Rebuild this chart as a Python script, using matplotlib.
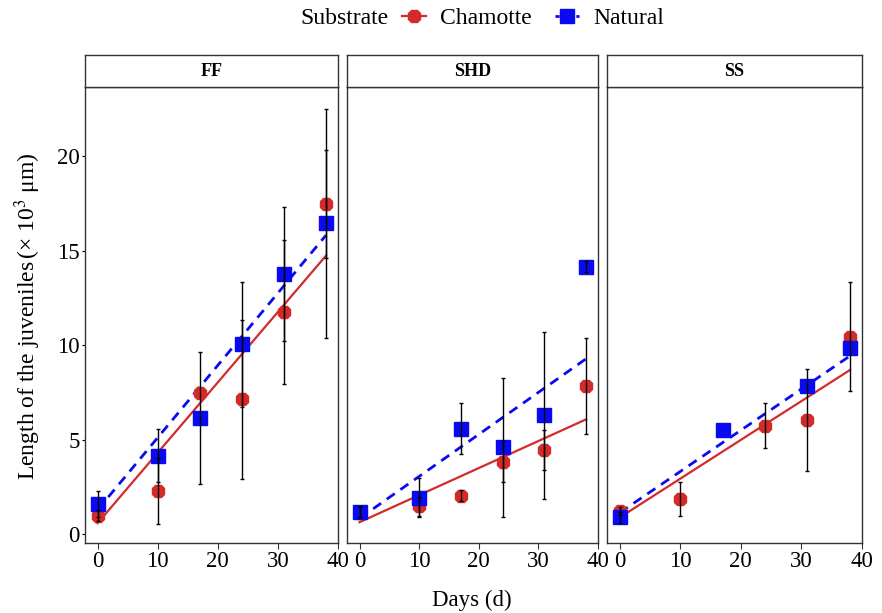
import numpy as np
import matplotlib
matplotlib.use("Agg")
import matplotlib.pyplot as plt
from matplotlib.lines import Line2D
from matplotlib.offsetbox import HPacker

plt.rcParams['font.family'] = ['Liberation Serif', 'DejaVu Serif']
plt.rcParams['mathtext.fontset'] = 'stix'

# data
days = np.array([0, 10, 17, 24, 31, 38])
panels = ['FF', 'SHD', 'SS']

cham_mean = {
    'FF':  [1.0, 2.3, 7.5, 7.15, 11.75, 17.45],
    'SHD': [1.15, 1.5, 2.05, 3.85, 4.45, 7.85],
    'SS':  [1.25, 1.9, np.nan, 5.75, 6.05, 10.45],
}
cham_err = {
    'FF':  [0.3, 1.75, 0.0, 4.2, 3.8, 2.85],
    'SHD': [0.3, 0.5, 0.3, 1.1, 1.05, 2.55],
    'SS':  [0.2, 0.9, np.nan, 1.2, 2.68, 2.87],
}
nat_mean = {
    'FF':  [1.6, 4.15, 6.15, 10.05, 13.75, 16.45],
    'SHD': [1.2, 1.95, 5.6, 4.6, 6.3, 14.15],
    'SS':  [0.9, np.nan, 5.5, np.nan, 7.85, 9.85],
}
nat_err = {
    'FF':  [0.7, 1.4, 3.5, 3.3, 3.55, 6.05],
    'SHD': [0.3, 1.05, 1.35, 3.65, 4.4, 0.3],
    'SS':  [0.3, np.nan, 0.0, np.nan, 0.0, 0.0],
}
# fitted lines (intercept, slope)
cham_fit = {'FF': (0.6, 0.372), 'SHD': (0.65, 0.143), 'SS': (0.9, 0.205)}
nat_fit = {'FF': (1.3, 0.382), 'SHD': (0.85, 0.222), 'SS': (1.15, 0.218)}

red = '#d42a2a'
blue = '#0a0af0'

fig = plt.figure(figsize=(8.82, 6.13), dpi=100)
lefts = [85, 347, 607]
widths = [253, 251, 255]
W, H = 882, 613
bottom = 1 - 543 / H
top = 1 - 87 / H
strip_h = 32 / H

xfit = np.array([0, 38])
for i, p in enumerate(panels):
    ax = fig.add_axes([lefts[i] / W, bottom, widths[i] / W, top - bottom])
    # regression lines
    a, b = cham_fit[p]
    ax.plot(xfit, a + b * xfit, color=red, lw=1.6, zorder=2)
    a, b = nat_fit[p]
    ax.plot(xfit, a + b * xfit, color=blue, lw=2.0, ls=(0, (3.5, 2.5)), zorder=2)
    # points
    ax.plot(days, cham_mean[p], ls='none', marker='8', ms=10, color=red, zorder=3)
    ax.plot(days, nat_mean[p], ls='none', marker='s', ms=10, color=blue, zorder=4)
    # error bars
    for m, e in ((cham_mean[p], cham_err[p]), (nat_mean[p], nat_err[p])):
        m = np.array(m); e = np.array(e)
        ok = ~np.isnan(m) & (e > 0)
        ax.errorbar(days[ok], m[ok], yerr=e[ok], fmt='none', ecolor='black',
                    elinewidth=1.0, capsize=1.5, capthick=1.0, zorder=5)
    ax.set_xlim(-2.1, 40)
    ax.set_ylim(-0.45, 23.65)
    ax.set_xticks([0, 10, 20, 30, 40])
    ax.tick_params(axis='x', labelsize=16.5, length=4, width=0.8, color='#333333', pad=2)
    if i == 0:
        ax.set_yticks([0, 5, 10, 15, 20])
        ax.set_yticklabels(['0', '5', '10', '15', '20'])
        ax.tick_params(axis='y', labelsize=16.5, length=2, width=0.8, pad=2)
    else:
        ax.set_yticks([])
    for s in ax.spines.values():
        s.set_color('#333333')
        s.set_linewidth(1.0)
    # strip
    sax = fig.add_axes([lefts[i] / W, top, widths[i] / W, strip_h])
    sax.set_xticks([]); sax.set_yticks([])
    sax.set_facecolor('white')
    for s in sax.spines.values():
        s.set_color('#333333')
        s.set_linewidth(1.0)
    sax.text(0.5, 0.5, p, ha='center', va='center', fontsize=13, fontweight='bold',
             transform=sax.transAxes)

fig.text(472 / W, 1 - 600 / H, 'Days (d)', ha='center', va='center', fontsize=16.5)
fig.text(28 / W, 1 - 316 / H, r'Length of the juveniles$\,$(× 10$^{3}$ μm)',
         ha='center', va='center', rotation=90, fontsize=17)

handles = [
    Line2D([], [], color=red, lw=1.6, marker='8', ms=10),
    Line2D([], [], color=blue, lw=2.0, ls=(0, (1.5, 1)), marker='s', ms=10),
]
leg = fig.legend(handles, ['Chamotte', 'Natural'], title='Substrate',
                 loc='center', bbox_to_anchor=(482 / W, 1 - 18 / H), ncol=2,
                 frameon=False, fontsize=17, title_fontsize=17, handlelength=1.0,
                 handletextpad=0.6, columnspacing=1.0)
# put title to the left of entries
title_box = leg._legend_title_box
items = leg._legend_handle_box
leg._legend_box._children = [HPacker(children=[title_box, items], pad=0, sep=10, align='center')]

fig.savefig('out.png', dpi=100)
